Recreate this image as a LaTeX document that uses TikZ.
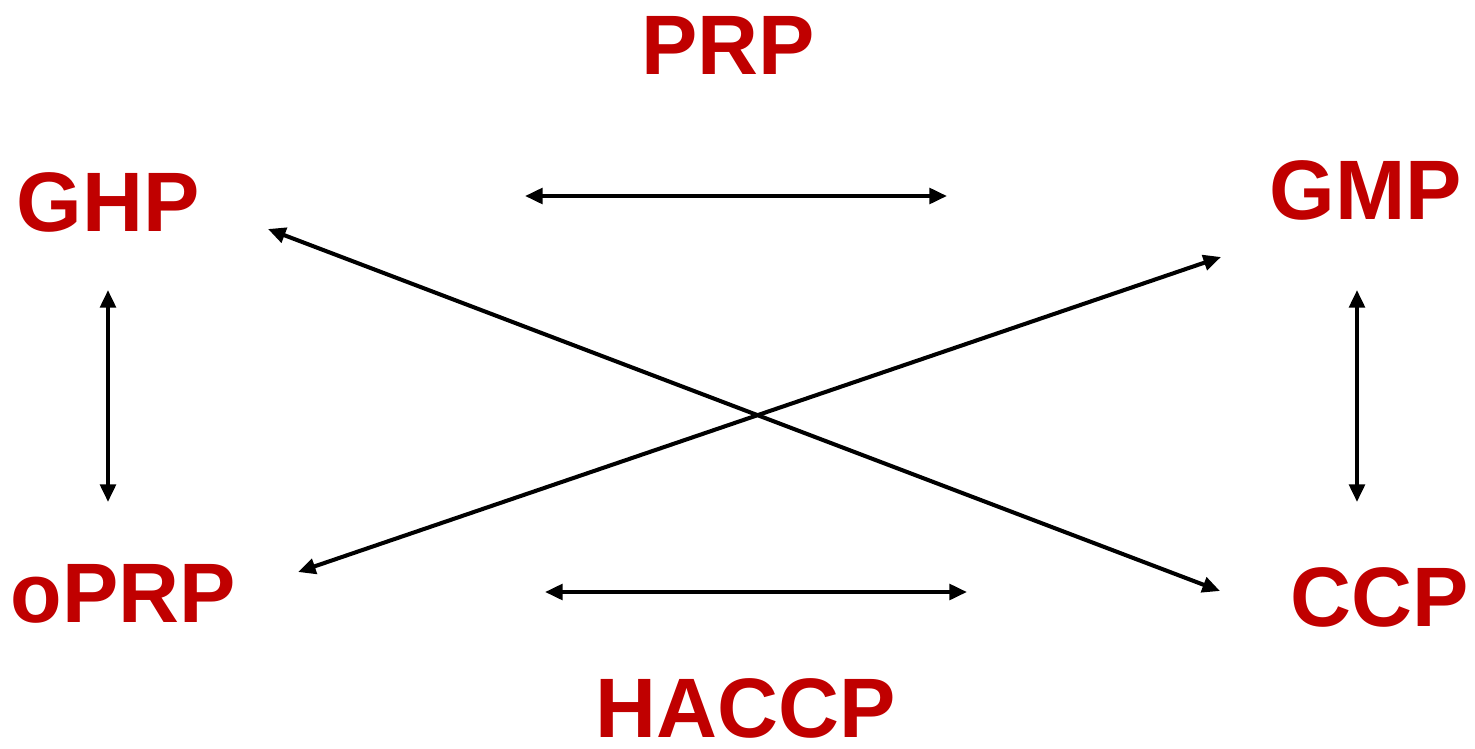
\documentclass[tikz,border=0pt]{standalone}
\usepackage{fontspec}
\setmainfont{Liberation Sans}
\usetikzlibrary{arrows.meta}
\definecolor{haccpred}{RGB}{192,0,0}
\begin{document}
\begin{tikzpicture}[x=0.01cm, y=-0.01cm, line join=round, >={Triangle[length=5pt,width=4.4pt]},
	nhan/.style={text=haccpred, font=\fontsize{24}{29}\selectfont\bfseries, inner sep=0pt},
	muiten/.style={<->, line width=1.15pt}]
	\useasboundingbox (0,0) rectangle (1475,748);
	\path 
	(728,45) node[nhan] (PRP) {PRP}
	(108,202) node[nhan] (GHP) {GHP}
	(1366,190) node[nhan] (GMP) {GMP}
	(123,594) node[nhan] (oPRP) {oPRP}
	(1380,597) node[nhan] (CCP) {CCP}
	(746,708) node[nhan] (HACCP) {HACCP};
	% đầu mút các mũi tên
	\coordinate (tren1) at (525,196);   \coordinate (tren2) at (947,196);
	\coordinate (duoi1) at (545,592);   \coordinate (duoi2) at (967,592);
	\coordinate (trai1) at (108,290);   \coordinate (trai2) at (108,502);
	\coordinate (phai1) at (1357,290);  \coordinate (phai2) at (1357,502);
	\coordinate (cheo1) at (268,229);   \coordinate (cheo2) at (1220,591);
	\coordinate (cheo3) at (298,572);   \coordinate (cheo4) at (1221,257);
	\draw[muiten] (tren1)--(tren2);
	\draw[muiten] (duoi1)--(duoi2);
	\draw[muiten] (trai1)--(trai2);
	\draw[muiten] (phai1)--(phai2);
	\draw[muiten] (cheo1)--(cheo2);
	\draw[muiten] (cheo3)--(cheo4);
\end{tikzpicture}
\end{document}
